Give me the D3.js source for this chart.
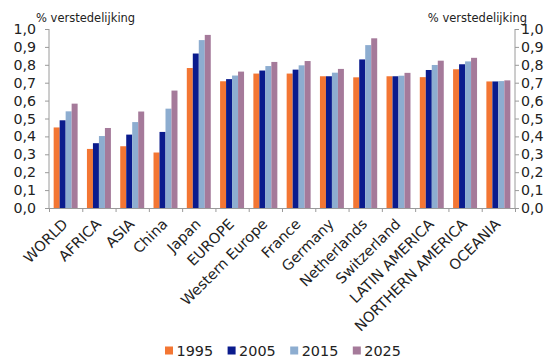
<!DOCTYPE html>
<html>
<head>
<meta charset="utf-8">
<script src="https://cdn.jsdelivr.net/npm/d3@7"></script>
<style>
  html, body { margin: 0; padding: 0; background: #fff; }
  svg { display: block; }
  text { font-family: "DejaVu Sans", Verdana, sans-serif; fill: #222; }
</style>
</head>
<body>
<svg id="chart" width="555" height="358"></svg>
<script>
// Urbanisation share per region, 1995–2025
const categories = ["WORLD", "AFRICA", "ASIA", "China", "Japan", "EUROPE", "Western Europe",
  "France", "Germany", "Netherlands", "Switzerland", "LATIN AMERICA", "NORTHERN AMERICA", "OCEANIA"];
const years = ["1995", "2005", "2015", "2025"];
const v1995 = [0.45, 0.33, 0.345, 0.31, 0.782, 0.708, 0.751, 0.751, 0.736, 0.73, 0.736, 0.731, 0.775, 0.707];
const v2005 = [0.49, 0.362, 0.41, 0.425, 0.863, 0.72, 0.768, 0.773, 0.736, 0.83, 0.736, 0.771, 0.803, 0.707];
const v2015 = [0.54, 0.402, 0.48, 0.555, 0.938, 0.74, 0.793, 0.797, 0.756, 0.91, 0.739, 0.799, 0.819, 0.709];
const v2025 = [0.583, 0.447, 0.539, 0.656, 0.967, 0.762, 0.816, 0.821, 0.777, 0.948, 0.755, 0.823, 0.839, 0.713];
const yTicks = [0, 0.1, 0.2, 0.3, 0.4, 0.5, 0.6, 0.7, 0.8, 0.9, 1.0];
const axisTitle = "% verstedelijking";

const series = [v1995, v2005, v2015, v2025];
const colors = ["#F37633", "#0A1B8D", "#8DADD0", "#A57A9A"];

const svg = d3.select("#chart");
const plotLeft = 49, plotRight = 515, plotBottom = 208, plotTop = 29;

const x = d3.scaleBand().domain(categories).range([plotLeft, plotRight])
  .paddingInner(0.28).paddingOuter(0.14);
const xs = d3.scaleBand().domain(years).range([0, x.bandwidth()]);
const y = d3.scaleLinear().domain([0, 1]).range([plotBottom, plotTop]);
const fmt = d => d3.format(".1f")(d).replace(".", ",");

// bars
const groups = svg.append("g").selectAll("g")
  .data(categories).join("g")
  .attr("transform", d => `translate(${x(d)},0)`);
groups.selectAll("rect")
  .data((c, i) => series.map((s, k) => ({ year: years[k], value: s[i], k })))
  .join("rect")
  .attr("x", d => xs(d.year))
  .attr("width", xs.bandwidth())
  .attr("y", d => y(d.value))
  .attr("height", d => y(0) - y(d.value))
  .attr("fill", d => colors[d.k]);

// value axes on both sides
const axisColor = "#9a9a9a";
const gl = svg.append("g").attr("transform", `translate(${plotLeft},0)`)
  .call(d3.axisLeft(y).tickValues(yTicks).tickFormat(fmt).tickSize(4).tickPadding(9));
const gr = svg.append("g").attr("transform", `translate(${plotRight},0)`)
  .call(d3.axisRight(y).tickValues(yTicks).tickFormat(fmt).tickSize(4).tickPadding(2));
[gl, gr].forEach(g => {
  g.select(".domain").attr("stroke", axisColor).attr("d", `M0,${plotBottom}V${plotTop}`);
  g.selectAll(".tick line").attr("stroke", axisColor);
  g.selectAll(".tick text").style("font-size", "14.2px").attr("fill", "#222");
});

// category axis with ticks at group boundaries
const xb = d3.scaleLinear().domain([0, categories.length]).range([plotLeft, plotRight]);
const gb = svg.append("g").attr("transform", `translate(0,${plotBottom})`)
  .call(d3.axisBottom(xb).tickValues(d3.range(categories.length + 1)).tickFormat("").tickSize(4).tickSizeOuter(0));
gb.select(".domain").attr("stroke", axisColor);
gb.selectAll(".tick line").attr("stroke", axisColor);

svg.append("g").selectAll("text")
  .data(categories).join("text")
  .attr("transform", d => `translate(${x(d) + x.bandwidth() / 2 + 3},${plotBottom + 17}) rotate(-45)`)
  .attr("text-anchor", "end")
  .style("font-size", "14.5px")
  .text(d => d);

// axis titles
svg.append("text").attr("x", 36).attr("y", 22).style("font-size", "11.5px").text(axisTitle);
svg.append("text").attr("x", 527).attr("y", 22).attr("text-anchor", "end")
  .style("font-size", "11.5px").text(axisTitle);

// legend
const legend = svg.append("g").selectAll("g")
  .data(years).join("g")
  .attr("transform", (d, i) => `translate(${165 + i * 62.6},0)`);
legend.append("rect").attr("y", 346.5).attr("width", 8).attr("height", 8)
  .attr("fill", (d, i) => colors[i]);
legend.append("text").attr("x", 11.5).attr("y", 355.5).style("font-size", "14.4px").text(d => d);
</script>
</body>
</html>
